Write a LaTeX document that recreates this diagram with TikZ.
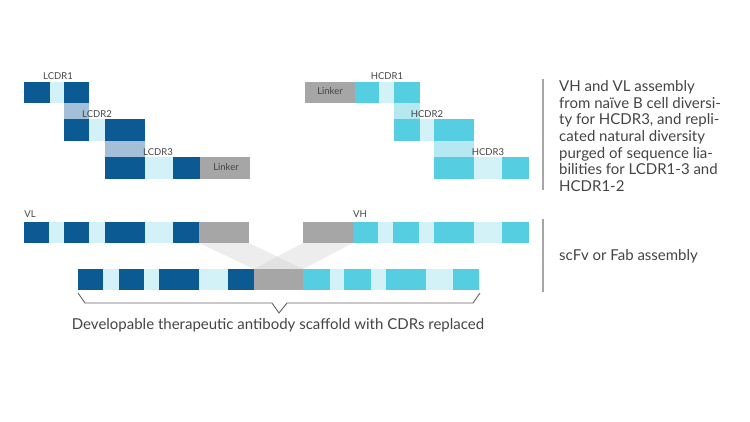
\documentclass[tikz,border=0pt]{standalone}
\usepackage{fontspec}
\setmainfont{Lato}
\definecolor{vldark}{HTML}{0B5A94}
\definecolor{vhcyan}{HTML}{55CEE2}
\definecolor{cdrlight}{HTML}{D2F2F8}
\definecolor{lkgray}{HTML}{A6A6A6}
\definecolor{vlband}{HTML}{A4C0D8}
\definecolor{vhband}{HTML}{B5E8F0}
\definecolor{txtgray}{HTML}{444444}
\begin{document}
\begin{tikzpicture}[x=1pt, y=-1pt,
    fw/.style={fill=vldark},
    fh/.style={fill=vhcyan},
    cdr/.style={fill=cdrlight},
    lnk/.style={fill=lkgray},
    small/.style={font=\fontsize{9.5}{10}\selectfont, text=txtgray, inner sep=0pt},
    big/.style={font=\fontsize{15}{16.6}\selectfont, text=txtgray, inner sep=0pt}]
    \useasboundingbox (0,0) rectangle (750,421);

    % VL Gerüst, Treppe
    \fill[fw] (24,82) rectangle (50,103);
    \fill[cdr] (50,82) rectangle (64,103);
    \fill[fw] (64,82) rectangle (89,103);
    \fill[vlband] (64,103) rectangle (89,119);
    \fill[fw] (64,119) rectangle (89,141);
    \fill[cdr] (89,119) rectangle (105,141);
    \fill[fw] (105,119) rectangle (145,141);
    \fill[vlband] (105,141) rectangle (145,157);
    \fill[fw] (105,157) rectangle (145,179);
    \fill[cdr] (145,157) rectangle (173,179);
    \fill[fw] (173,157) rectangle (200,179);
    \fill[lnk] (200,157) rectangle (250,179);

    \node[small] (lcdr1) at (58,76) {LCDR1};
    \node[small] (lcdr2) at (97,114) {LCDR2};
    \node[small] (lcdr3) at (158,152) {LCDR3};
    \node[small] (lnkl) at (226,167) {Linker};

    % VH Gerüst, Treppe
    \fill[lnk] (305,82) rectangle (355,103);
    \fill[fh] (355,82) rectangle (379,103);
    \fill[cdr] (379,82) rectangle (394,103);
    \fill[fh] (394,82) rectangle (420,103);
    \fill[vhband] (394,103) rectangle (420,119);
    \fill[fh] (394,119) rectangle (420,141);
    \fill[cdr] (420,119) rectangle (434,141);
    \fill[fh] (434,119) rectangle (474,141);
    \fill[vhband] (434,141) rectangle (474,157);
    \fill[fh] (434,157) rectangle (474,179);
    \fill[cdr] (474,157) rectangle (502,179);
    \fill[fh] (502,157) rectangle (529,179);

    \node[small] (hcdr1) at (387,76) {HCDR1};
    \node[small] (hcdr2) at (427,114) {HCDR2};
    \node[small] (hcdr3) at (488,152) {HCDR3};
    \node[small] (lnkh) at (330,91) {Linker};

    % Überleitung der Linker
    \fill[gray!40, opacity=0.35] (199,243) -- (249,243) -- (303,269) -- (254,269) -- cycle;
    \fill[gray!40, opacity=0.35] (303,243) -- (353,243) -- (303,269) -- (254,269) -- cycle;

    % VL Zeile
    \fill[fw] (24,222) rectangle (49,243);
    \fill[cdr] (49,222) rectangle (64,243);
    \fill[fw] (64,222) rectangle (89,243);
    \fill[cdr] (89,222) rectangle (105,243);
    \fill[fw] (105,222) rectangle (145,243);
    \fill[cdr] (145,222) rectangle (173,243);
    \fill[fw] (173,222) rectangle (199,243);
    \fill[lnk] (199,222) rectangle (249,243);
    \node[small] (vl) at (30,214) {VL};

    % VH Zeile
    \fill[lnk] (303,222) rectangle (353,243);
    \fill[fh] (353,222) rectangle (378,243);
    \fill[cdr] (378,222) rectangle (393,243);
    \fill[fh] (393,222) rectangle (419,243);
    \fill[cdr] (419,222) rectangle (434,243);
    \fill[fh] (434,222) rectangle (474,243);
    \fill[cdr] (474,222) rectangle (502,243);
    \fill[fh] (502,222) rectangle (529,243);
    \node[small] (vh) at (360,214) {VH};

    % scFv
    \fill[fw] (78,269) rectangle (103,290);
    \fill[cdr] (103,269) rectangle (119,290);
    \fill[fw] (119,269) rectangle (144,290);
    \fill[cdr] (144,269) rectangle (159,290);
    \fill[fw] (159,269) rectangle (199,290);
    \fill[cdr] (199,269) rectangle (228,290);
    \fill[fw] (228,269) rectangle (254,290);
    \fill[lnk] (254,269) rectangle (303,290);
    \fill[fh] (303,269) rectangle (330,290);
    \fill[cdr] (330,269) rectangle (344,290);
    \fill[fh] (344,269) rectangle (371,290);
    \fill[cdr] (371,269) rectangle (386,290);
    \fill[fh] (386,269) rectangle (426,290);
    \fill[cdr] (426,269) rectangle (453,290);
    \fill[fh] (453,269) rectangle (479,290);

    % Klammer
    \draw[gray!80!black, line width=0.9pt] (78,293) -- (85,303) -- (272,303) -- (279,313)
        -- (287,303) -- (473,303) -- (480,293);
    \node[big] (scaffold) at (278,325) {Developable therapeutic antibody scaffold with CDRs replaced};

    % rechte Spalte
    \draw[gray!70, line width=1.2pt] (543,79) -- (543,190);
    \draw[gray!70, line width=1.2pt] (543,219) -- (543,292);
    \node[big, anchor=west, align=left] (desc) at (559,136) {VH and VL assembly\\
        from naïve B cell diversi-\\ ty for HCDR3, and repli-\\ cated natural diversity\\
        purged of sequence lia-\\ bilities for LCDR1-3 and\\ HCDR1-2};
    \node[big, anchor=west] (assembly) at (559,256) {scFv or Fab assembly};
\end{tikzpicture}
\end{document}
